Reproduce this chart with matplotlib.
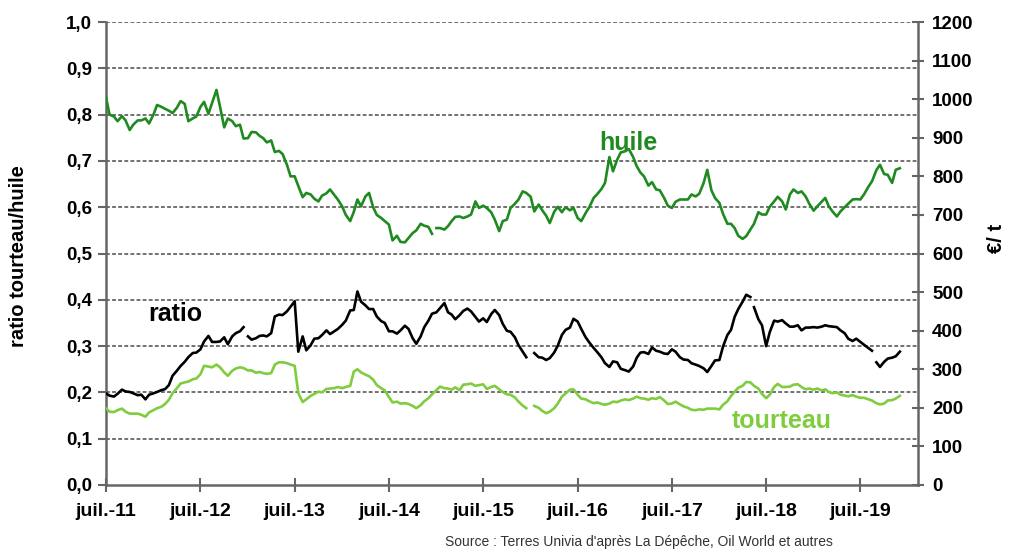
import numpy as np
import pandas as pd
import matplotlib
matplotlib.use("Agg")
import matplotlib.pyplot as plt

# prix semi-mensuels (1er et 15 du mois, depuis juillet 2011)
huile = [1005, 960, 955, 943, 956, 945, 920, 934, 945, 945, 950, 937, 960, 985, 980, 975, 970, 964, 978, 995,
         988, 943, 950, 955, 980, 993, 962, 990, 1024, 980, 927, 950, 943, 930, 934, 898, 899, 915, 914, 905,
         899, 888, 893, 863, 866, 858, 830, 800, 800, 775, 746, 757, 753, 742, 735, 750, 756, 766, 752, 740,
         722, 700, 684, 708, 740, 722, 748, 757, 720, 700, 692, 684, 675, 634, 646, 630, 629, 640, 653, 660,
         677, 672, 669, 651, 666, 666, 662, 671, 684, 695, 696, 692, 696, 701, 735, 718, 724, 718, 707, 688,
         658, 684, 688, 718, 729, 740, 761, 757, 747, 709, 727, 712, 698, 679, 708, 721, 707, 720, 712, 718,
         692, 684, 705, 720, 744, 754, 767, 783, 850, 813, 843, 862, 865, 871, 850, 826, 810, 800, 776, 785,
         766, 764, 744, 724, 718, 734, 740, 740, 740, 753, 748, 755, 783, 817, 764, 744, 731, 703, 677, 677,
         666, 646, 638, 645, 662, 677, 707, 701, 701, 721, 735, 747, 735, 714, 753, 766, 757, 761, 748, 729,
         711, 722, 734, 744, 722, 709, 696, 709, 720, 729, 740, 741, 740, 753, 773, 787, 816, 830, 806, 804,
         783, 817, 821]

tourteau = [199, 190, 189, 194, 198, 190, 185, 185, 185, 182, 177, 188, 194, 199, 203, 210, 221, 238, 251, 263,
            266, 268, 274, 276, 287, 309, 307, 305, 312, 305, 292, 283, 296, 302, 305, 303, 297, 297, 291, 293,
            290, 288, 290, 312, 318, 318, 316, 312, 309, 238, 215, 222, 231, 236, 242, 240, 249, 250, 251, 254,
            251, 254, 257, 294, 300, 292, 286, 282, 273, 259, 251, 245, 228, 214, 216, 211, 212, 210, 205, 199,
            207, 217, 225, 235, 246, 255, 251, 250, 247, 253, 246, 260, 261, 263, 257, 259, 261, 249, 254, 257,
            248, 241, 235, 234, 227, 216, 206, 199, np.nan, 205, 200, 192, 186, 190, 199, 211, 229, 237, 247, 248,
            234, 224, 222, 217, 212, 214, 210, 208, 211, 216, 215, 219, 222, 220, 224, 229, 225, 224, 221, 225,
            223, 228, 219, 210, 211, 216, 209, 204, 200, 195, 194, 196, 195, 198, 198, 198, 196, 208, 217, 231,
            242, 252, 257, 267, 266, 257, 250, 236, 225, 234, 254, 262, 254, 254, 255, 260, 261, 254, 248, 250,
            247, 250, 245, 248, 241, 238, 240, 234, 232, 230, 233, 229, 226, 226, 222, 219, 212, 209, 211, 219,
            220, 224, 231]

ratio = [0.198, 0.193, 0.191, 0.197, 0.206, 0.202, 0.201, 0.198, 0.194, 0.195, 0.185, 0.195, 0.198, 0.201, 0.205,
         0.207, 0.216, 0.236, 0.247, 0.257, 0.266, 0.276, 0.285, 0.286, 0.293, 0.310, 0.322, 0.309, 0.309, 0.310,
         0.319, 0.304, 0.321, 0.328, 0.332, 0.341, 0.321, 0.314, 0.317, 0.322, 0.323, 0.321, 0.328, 0.364, 0.368,
         0.367, 0.375, 0.385, 0.397, 0.288, 0.321, 0.291, 0.302, 0.316, 0.317, 0.324, 0.334, 0.326, 0.332, 0.337,
         0.346, 0.355, 0.377, 0.378, 0.418, 0.396, 0.388, 0.380, 0.380, 0.364, 0.354, 0.350, 0.332, 0.332, 0.327,
         0.334, 0.344, 0.337, 0.317, 0.305, 0.321, 0.341, 0.355, 0.370, 0.373, 0.382, 0.393, 0.373, 0.368, 0.358,
         0.367, 0.376, 0.381, 0.375, 0.363, 0.353, 0.360, 0.352, 0.369, 0.378, 0.367, 0.348, 0.333, 0.331, 0.319,
         0.302, 0.288, 0.276, np.nan, 0.285, 0.276, 0.275, 0.270, 0.274, 0.286, 0.301, 0.324, 0.335, 0.340, 0.359,
         0.353, 0.337, 0.319, 0.308, 0.296, 0.287, 0.276, 0.263, 0.255, 0.267, 0.265, 0.251, 0.248, 0.245, 0.256,
         0.275, 0.286, 0.287, 0.283, 0.297, 0.290, 0.288, 0.284, 0.283, 0.293, 0.288, 0.276, 0.271, 0.270, 0.263,
         0.260, 0.257, 0.252, 0.244, 0.257, 0.269, 0.270, 0.299, 0.324, 0.335, 0.363, 0.380, 0.396, 0.411, 0.406,
         0.384, 0.358, 0.345, 0.300, 0.330, 0.355, 0.353, 0.356, 0.349, 0.342, 0.342, 0.345, 0.334, 0.340, 0.340,
         0.341, 0.340, 0.342, 0.345, 0.343, 0.342, 0.341, 0.334, 0.328, 0.316, 0.311, 0.316, 0.309, 0.303, 0.296,
         0.290, 0.265, 0.255, 0.266, 0.273, 0.275, 0.278, 0.288]

# ruptures de la courbe (pas de donnée entre l'indice i et i+1)
huile_breaks = [83]
ratio_breaks = [35, 164, 195]

years = list(range(2011, 2020))
xlabels = ["juil.-%02d" % (y % 100) for y in years]

dates = pd.date_range("2011-07-01", periods=len(huile), freq="SMS")


def with_breaks(values, breaks):
    s = pd.Series(values, index=dates, dtype=float)
    for i in breaks:
        s.loc[dates[i] + (dates[i + 1] - dates[i]) / 2] = np.nan
    return s.sort_index()


plt.rcParams["font.family"] = ["Liberation Sans", "DejaVu Sans"]

fig = plt.figure(figsize=(10.09, 5.56), dpi=100)
ax = fig.add_axes([0.105, 0.1277, 0.805, 0.8327])
ax2 = ax.twinx()

dark = "#1f8a1f"
light = "#7fcc3f"
axis_col = "#666666"

s = with_breaks(ratio, ratio_breaks)
ax.plot(s.index, s.values, color="black", lw=1.9, zorder=3)
s = with_breaks(huile, huile_breaks)
ax2.plot(s.index, s.values, color=dark, lw=1.9)
s = with_breaks(tourteau, [])
ax2.plot(s.index, s.values, color=light, lw=1.9)

ax.set_ylim(0, 1.0)
ax2.set_ylim(0, 1200)
ax.set_xlim(pd.Timestamp("2011-07-01"), pd.Timestamp("2020-02-10"))

ax.set_yticks(np.arange(0, 1.01, 0.1))
ax.set_yticklabels([("%.1f" % v).replace(".", ",") for v in np.arange(0, 1.01, 0.1)])
ax2.set_yticks(range(0, 1201, 100))
ax.set_xticks([pd.Timestamp("%d-07-01" % y) for y in years])
ax.set_xticklabels(xlabels)

for v in np.arange(0.1, 1.01, 0.1):
    ax.axhline(v, color="#4a4a4a", lw=1.1, ls=(0, (2.5, 1.5)), zorder=1)

for a in (ax, ax2):
    a.spines["top"].set_visible(False)
    for sp in a.spines.values():
        sp.set_color(axis_col)
        sp.set_linewidth(1.8)
ax.spines["right"].set_visible(False)
ax2.spines["left"].set_visible(False)
ax2.spines["bottom"].set_visible(False)

ax.tick_params(axis="y", direction="out", length=6, width=1.5, color=axis_col, pad=4,
               labelsize=13.5)
ax.tick_params(axis="x", direction="inout", length=10, width=1.5, color=axis_col, pad=8,
               labelsize=14)
ax2.tick_params(axis="y", direction="inout", length=8, width=1.5, color=axis_col, pad=6,
                labelsize=13.5)
for lab in ax.get_xticklabels() + ax.get_yticklabels() + ax2.get_yticklabels():
    lab.set_fontweight("bold")

fig.text(0.018, 0.54, "ratio tourteau/huile", rotation=90, fontsize=14.5, fontweight="bold",
         ha="center", va="center")
fig.text(0.988, 0.572, "€/ t", rotation=90, fontsize=14.5, fontweight="bold", ha="center", va="center")

ax.text(pd.Timestamp("2017-01-15"), 0.738, "huile", color=dark, fontsize=18, fontweight="bold",
        ha="center", va="center")
ax.text(pd.Timestamp("2012-03-25"), 0.369, "ratio", color="black", fontsize=18, fontweight="bold",
        ha="center", va="center")
ax.text(pd.Timestamp("2018-09-01"), 0.138, "tourteau", color=light, fontsize=18, fontweight="bold",
        ha="center", va="center")

fig.text(0.441, 0.013, "Source : Terres Univia d'après La Dépêche, Oil World et autres", fontsize=10,
         color="#333333", ha="left", va="bottom")

fig.savefig("out.png", dpi=100)
